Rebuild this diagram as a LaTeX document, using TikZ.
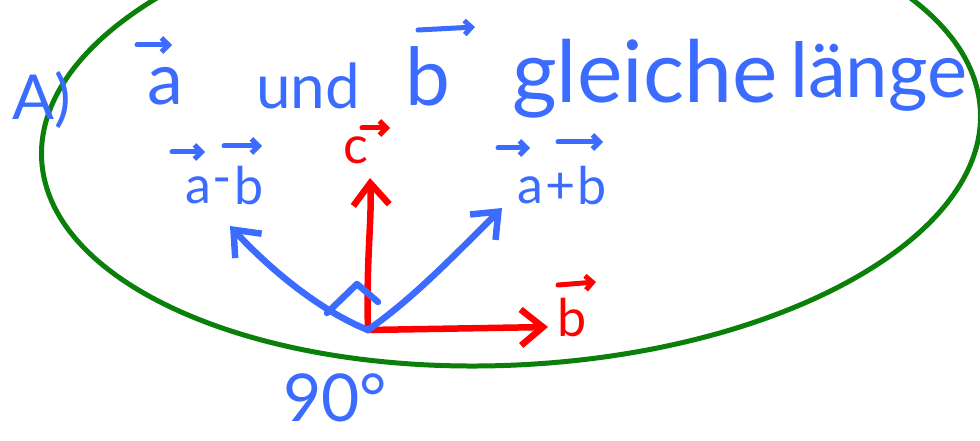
\documentclass[tikz,border=0pt]{standalone}
\usepackage{fontspec}
\setmainfont{Lato}
\usetikzlibrary{arrows.meta}
\definecolor{pblue}{RGB}{59,108,255}
\definecolor{pred}{RGB}{255,0,0}
\definecolor{pgreen}{RGB}{10,128,10}
\tikzset{
  ink/.style={line width=6.5pt, line cap=round, line join=round},
  bluetxt/.style={text=pblue, inner sep=0pt, font=\fontsize{62}{62}\selectfont},
  lbl/.style={inner sep=0pt, font=\fontsize{52}{52}\selectfont},
  vecarr/.style={ink, line width=5pt, -{Straight Barb[length=7pt,width=14pt]}},
  bigarr/.style={ink, -{Straight Barb[length=22pt,width=36pt]}},
}
\begin{document}
\begin{tikzpicture}[x=1pt,y=-1pt]
\useasboundingbox (0,0) rectangle (980,441);
% green ellipse
\draw[pgreen, line width=5pt, rotate around={3:(511,135)}] (511,135) ellipse [x radius=470, y radius=230];

% title line
\node[bluetxt] (A) at (42,100) {A)};
\node[bluetxt, font=\fontsize{72}{72}\selectfont] (ta) at (165,86) {a};
\coordinate (taL) at (137,45); \coordinate (taR) at (172,45);
\draw[vecarr, pblue] (taL) -- (taR);
\node[bluetxt] (und) at (308,86) {und};
\node[bluetxt, font=\fontsize{80}{80}\selectfont] (tb) at (428,76) {b};
\coordinate (tbL) at (418,30); \coordinate (tbR) at (475,27);
\draw[vecarr, pblue] (tbL) -- (tbR);
\node[bluetxt, anchor=base west, font=\fontsize{86}{86}\selectfont] (gl) at (512,103) {gleiche};
\node[bluetxt, anchor=base west, font=\fontsize{76}{76}\selectfont] (la) at (790,98) {länge};

% vectors
\coordinate (O) at (368,330);
\coordinate (bt) at (548,327);
\coordinate (ct) at (370,178);
\coordinate (pt) at (502,208);
\coordinate (mt) at (230,226);
\draw[bigarr, pred] (O) -- (bt);
\draw[bigarr, pred] (O) .. controls (366,260) and (372,220) .. (ct);
\draw[bigarr, pblue] (O) .. controls (410,300) and (440,270) .. (pt);
\draw[bigarr, pblue] (O) .. controls (330,315) and (280,280) .. (mt);
% right angle mark
\coordinate (r1) at (327,313);
\coordinate (r2) at (357,284);
\coordinate (r3) at (378,302);
\draw[ink, pblue] (r1) -- (r2) -- (r3);

% labels
\node[lbl, text=pblue] (ma) at (198,190) {a};
\node[lbl, text=pblue] (mm) at (222,187) {-};
\node[lbl, text=pblue] (mb) at (249,186) {b};
\coordinate (maL) at (172,152); \coordinate (maR) at (205,152);
\coordinate (mbL) at (224,146); \coordinate (mbR) at (262,146);
\draw[vecarr, pblue] (maL) -- (maR);
\draw[vecarr, pblue] (mbL) -- (mbR);

\node[lbl, text=pred] (lc) at (356,150) {c};
\coordinate (lcL) at (362,128); \coordinate (lcR) at (390,128);
\draw[vecarr, pred] (lcL) -- (lcR);

\node[lbl, text=pblue] (pa) at (530,190) {a};
\node[lbl, text=pblue] (pp) at (561,188) {+};
\node[lbl, text=pblue] (pb) at (592,186) {b};
\coordinate (paL) at (498,148); \coordinate (paR) at (530,148);
\coordinate (pbL) at (558,142); \coordinate (pbR) at (603,142);
\draw[vecarr, pblue] (paL) -- (paR);
\draw[vecarr, pblue] (pbL) -- (pbR);

\node[lbl, text=pred] (lb) at (572,318) {b};
\coordinate (lbL) at (558,285); \coordinate (lbR) at (596,282);
\draw[vecarr, pred] (lbL) -- (lbR);

\node[bluetxt, font=\fontsize{66}{66}\selectfont] (deg) at (335,398) {90°};
\end{tikzpicture}
\end{document}
